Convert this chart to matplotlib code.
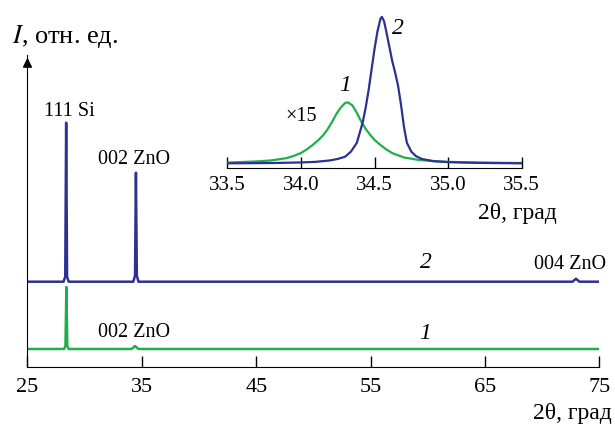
import matplotlib.pyplot as plt

plt.rcParams['font.family'] = ['Liberation Serif', 'DejaVu Serif']
plt.rcParams['mathtext.fontset'] = 'stix'

BLUE = '#2e3192'
GREEN = '#1fae4b'

# main pattern, intensities in arbitrary units
theta1 = [25.0, 28.2, 28.32, 28.4, 28.48, 28.6, 34.1, 34.4, 34.7, 75.0]
int1 = [0, 0, 3, 62, 3, 0, 0, 3, 0, 0]
theta2 = [25.0, 28.15, 28.3, 28.38, 28.46, 28.6, 34.25, 34.4, 34.48, 34.56,
          34.7, 72.65, 72.95, 73.25, 75.0]
int2 = [0, 0, 5, 159, 5, 0, 0, 6, 109, 6, 0, 0, 3, 0, 0]
offset1 = 17.7
offset2 = 85.0

# inset: 002 ZnO, normalised
zin1 = [33.5, 33.7, 33.8, 33.9, 33.95, 34.0, 34.04, 34.08, 34.12, 34.15,
        34.18, 34.21, 34.24, 34.27, 34.3, 34.32, 34.35, 34.38, 34.41, 34.44,
        34.47, 34.5, 34.54, 34.58, 34.62, 34.7, 34.8, 34.9, 35.0, 35.2, 35.5]
iin1 = [0.5, 1.3, 2, 3.5, 5, 7, 9.5, 12.5, 16, 19,
        23, 28, 33.5, 38, 41.2, 41.6, 39.5, 34.5, 28.5, 23.5,
        19.5, 16, 12.5, 9.5, 7, 4, 2.3, 1.5, 1, 0.5, 0.2]
zin2 = [33.5, 33.8, 34.0, 34.1, 34.2, 34.25, 34.3, 34.34, 34.38, 34.4, 34.42,
        34.44, 34.46, 34.48, 34.5, 34.52, 34.54, 34.55, 34.565, 34.58, 34.6,
        34.62, 34.64, 34.66, 34.68, 34.7, 34.72, 34.75, 34.78, 34.82, 34.9,
        35.0, 35.2, 35.5]
iin2 = [0, 0.2, 0.6, 1, 2, 3, 4.5, 8, 14, 21, 28,
        38, 50, 64, 78, 90, 98.5, 100, 97, 90, 80,
        70, 62, 53, 40, 25, 14, 8, 5, 3, 1.5,
        0.8, 0.3, 0]

fig = plt.figure(figsize=(6.15, 4.26), dpi=100)
ax = fig.add_axes([0.0447, 0.1392, 0.930, 0.7317])
ax.plot(theta1, [v + offset1 for v in int1], color=GREEN, lw=1.8)
ax.plot(theta2, [v + offset2 for v in int2], color=BLUE, lw=1.8)
ax.set_xlim(25, 75)
ax.set_ylim(0, 311.7)
ax.set_xticks([25, 35, 45, 55, 65, 75])
ax.tick_params(axis='x', direction='in', length=8, width=1, labelsize=16, pad=8)
ax.set_yticks([])
ax.spines['top'].set_visible(False)
ax.spines['right'].set_visible(False)
ax.annotate('', xy=(0, 1.0), xytext=(0, 0.95), xycoords='axes fraction',
            arrowprops=dict(arrowstyle='-|>', color='black', lw=1,
                            mutation_scale=14))

ax.text(28.63, 254.7, '111 Si', ha='center', va='center', fontsize=14.5)
ax.text(34.3, 206.7, '002 ZnO', ha='center', va='center', fontsize=14.5)
ax.text(34.3, 34.7, '002 ZnO', ha='center', va='center', fontsize=14.5)
ax.text(72.4, 101.7, '004 ZnO', ha='center', va='center', fontsize=14.5)
ax.text(59.8, 103.7, '2', ha='center', va='center', fontsize=17, style='italic')
ax.text(59.8, 33.7, '1', ha='center', va='center', fontsize=17, style='italic')

fig.text(612 / 615, 1 - 413 / 426, '2θ, град', ha='right', va='center',
         fontsize=17)
fig.text(12 / 615, 1 - 36 / 426, '$I$, отн. ед.', ha='left', va='center',
         fontsize=19)

# inset
axi = fig.add_axes([0.3696, 0.6063, 0.4787, 0.370])
axi.patch.set_alpha(0)
axi.plot(zin1, iin1, color=GREEN, lw=1.6)
axi.plot(zin2, iin2, color=BLUE, lw=1.6)
axi.set_xlim(33.5, 35.5)
axi.set_ylim(-3.0, 104.6)
axi.set_xticks([33.5, 34.0, 34.5, 35.0, 35.5])
axi.set_xticklabels(['33.5', '34.0', '34.5', '35.0', '35.5'])
axi.tick_params(axis='x', direction='in', length=8, width=1, labelsize=15, pad=6)
axi.set_yticks([])
for s in ['top', 'right', 'left']:
    axi.spines[s].set_visible(False)
axi.text(34.0, 32, '×15', ha='center', va='center', fontsize=14.5)
axi.text(34.3, 53, '1', ha='center', va='center', fontsize=17, style='italic')
axi.text(34.66, 92, '2', ha='center', va='center', fontsize=17, style='italic')
fig.text(557 / 615, 1 - 213 / 426, '2θ, град', ha='right', va='center',
         fontsize=17)

fig.savefig('out.png', dpi=100)
